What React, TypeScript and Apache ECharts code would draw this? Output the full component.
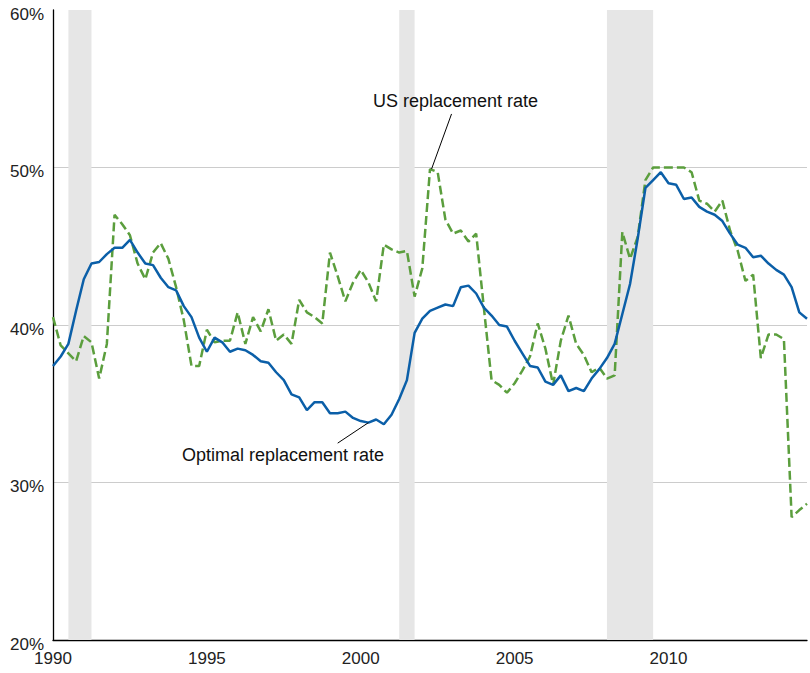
import React, { useEffect, useRef } from "react";
import * as echarts from "echarts";

const startYear = 1990;
const yTickLabels = ["20%", "30%", "40%", "50%", "60%"];
const xTickLabels = ["1990", "1995", "2000", "2005", "2010"];

const optimalRate = [
  37.4, 38.0, 38.8, 40.9, 42.9, 43.9, 44.0, 44.5, 44.9, 44.9,
  45.4, 44.6, 43.9, 43.8, 43.0, 42.4, 42.2, 41.2, 40.5, 39.2,
  38.3, 39.2, 38.9, 38.3, 38.5, 38.4, 38.1, 37.7, 37.6, 37.0,
  36.5, 35.6, 35.4, 34.6, 35.1, 35.1, 34.4, 34.4, 34.5, 34.1,
  33.9, 33.8, 34.0, 33.7, 34.3, 35.3, 36.5, 39.5, 40.4, 40.9,
  41.1, 41.3, 41.2, 42.4, 42.5, 42.0, 41.1, 40.6, 40.0, 39.9,
  39.0, 38.2, 37.4, 37.3, 36.4, 36.2, 36.8, 35.8, 36.0, 35.8,
  36.6, 37.2, 37.9, 38.8, 40.7, 42.6, 45.5, 48.7, 49.2, 49.7,
  49.0, 48.9, 48.0, 48.1, 47.5, 47.2, 47.0, 46.6, 45.8, 45.1,
  44.9, 44.3, 44.4, 43.9, 43.5, 43.2, 42.4, 40.8, 40.4,
];

const usRate = [
  40.5, 38.7, 38.2, 37.7, 39.3, 38.9, 36.6, 38.8, 47.0, 46.4,
  45.7, 43.9, 42.9, 44.6, 45.2, 44.2, 42.4, 40.3, 37.4, 37.4,
  39.7, 38.9, 39.0, 39.0, 40.8, 38.8, 40.5, 39.6, 41.0, 39.0,
  39.4, 38.8, 41.6, 40.8, 40.5, 40.1, 44.6, 43.1, 41.5, 42.7,
  43.5, 42.7, 41.5, 45.1, 44.8, 44.6, 44.7, 41.8, 43.6, 49.9,
  49.7, 46.7, 45.8, 46.0, 45.3, 45.8, 41.1, 36.5, 36.2, 35.7,
  36.3, 37.1, 38.0, 40.1, 38.5, 36.2, 39.0, 40.6, 38.8, 38.1,
  37.0, 37.3, 36.6, 36.8, 45.9, 44.2, 45.6, 49.2, 50.0, 50.0,
  50.0, 50.0, 50.0, 49.7, 47.9, 47.7, 47.2, 47.9, 46.0, 44.7,
  42.8, 43.2, 37.9, 39.4, 39.4, 39.1, 27.8, 28.25, 28.65,
];

const recessions: [number, number][] = [
  [1990.5, 1991.25],
  [2001.25, 2001.75],
  [2008.0, 2009.5],
];

const toPairs = (vals: number[]) => vals.map((v, i) => [startYear + i * 0.25, v]);

export default function App() {
  const ref = useRef<HTMLDivElement>(null);
  useEffect(() => {
    if (!ref.current) return;
    const chart = echarts.init(ref.current, null, { renderer: "svg" });
    const font = "'Liberation Sans', Arial, Helvetica, sans-serif";
    chart.setOption({
      animation: false,
      grid: { left: 53, top: 10, right: -1, bottom: 33, containLabel: false },
      xAxis: {
        type: "value",
        min: 1990,
        max: 2014.5,
        interval: 5,
        axisLine: { show: true, lineStyle: { color: "#000", width: 1.3 } },
        axisTick: { show: false },
        splitLine: { show: false },
        axisLabel: {
          color: "#222",
          fontSize: 17,
          fontFamily: font,
          margin: 10,
          formatter: (v: number) => (xTickLabels.includes(String(v)) ? String(v) : ""),
        },
      },
      yAxis: {
        type: "value",
        min: 20,
        max: 60,
        interval: 10,
        axisLine: { show: true, lineStyle: { color: "#000", width: 1.3 } },
        axisTick: { show: false },
        splitLine: {
          show: true,
          lineStyle: { color: ["#ccc", "#ccc", "#ccc", "#ccc", "rgba(0,0,0,0)"], width: 1 },
        },
        axisLabel: {
          color: "#222",
          fontSize: 17,
          fontFamily: font,
          margin: 9,
          verticalAlign: "top",
          lineHeight: 8,
          formatter: (v: number) => yTickLabels[(v - 20) / 10] ?? "",
        },
      },
      series: [
        {
          type: "line",
          name: "US replacement rate",
          data: toPairs(usRate),
          symbol: "none",
          lineStyle: { color: "#5b9e3d", width: 2.5, type: [9, 4] },
          z: 3,
          markArea: {
            silent: true,
            itemStyle: { color: "#e6e6e6" },
            data: recessions.map(([a, b]) => [{ xAxis: a }, { xAxis: b }]),
            z: 1,
          },
          markLine: {
            silent: true,
            symbol: "none",
            label: { show: false },
            lineStyle: { color: "#000", width: 1, type: "solid" },
            data: [[{ coord: [2002.3, 49.9] }, { coord: [2002.95, 53.4] }]],
          },
        },
        {
          type: "line",
          name: "Optimal replacement rate",
          data: toPairs(optimalRate),
          symbol: "none",
          lineStyle: { color: "#0b5fa8", width: 2.5 },
          z: 4,
          markLine: {
            silent: true,
            symbol: "none",
            label: { show: false },
            lineStyle: { color: "#000", width: 1, type: "solid" },
            data: [[{ coord: [2000.25, 33.8] }, { coord: [1999.25, 32.5] }]],
          },
        },
      ],
      graphic: [
        {
          type: "text",
          left: 373,
          top: 92,
          z: 100,
          style: { text: "US replacement rate", fontSize: 18, fontFamily: font, fill: "#111" },
        },
        {
          type: "text",
          left: 182,
          top: 446,
          z: 100,
          style: { text: "Optimal replacement rate", fontSize: 18, fontFamily: font, fill: "#111" },
        },
      ],
    });
    return () => chart.dispose();
  }, []);
  return (
    <div
      ref={ref}
      style={{ position: "fixed", left: 0, top: 0, width: 810, height: 673, background: "#fff" }}
    />
  );
}
